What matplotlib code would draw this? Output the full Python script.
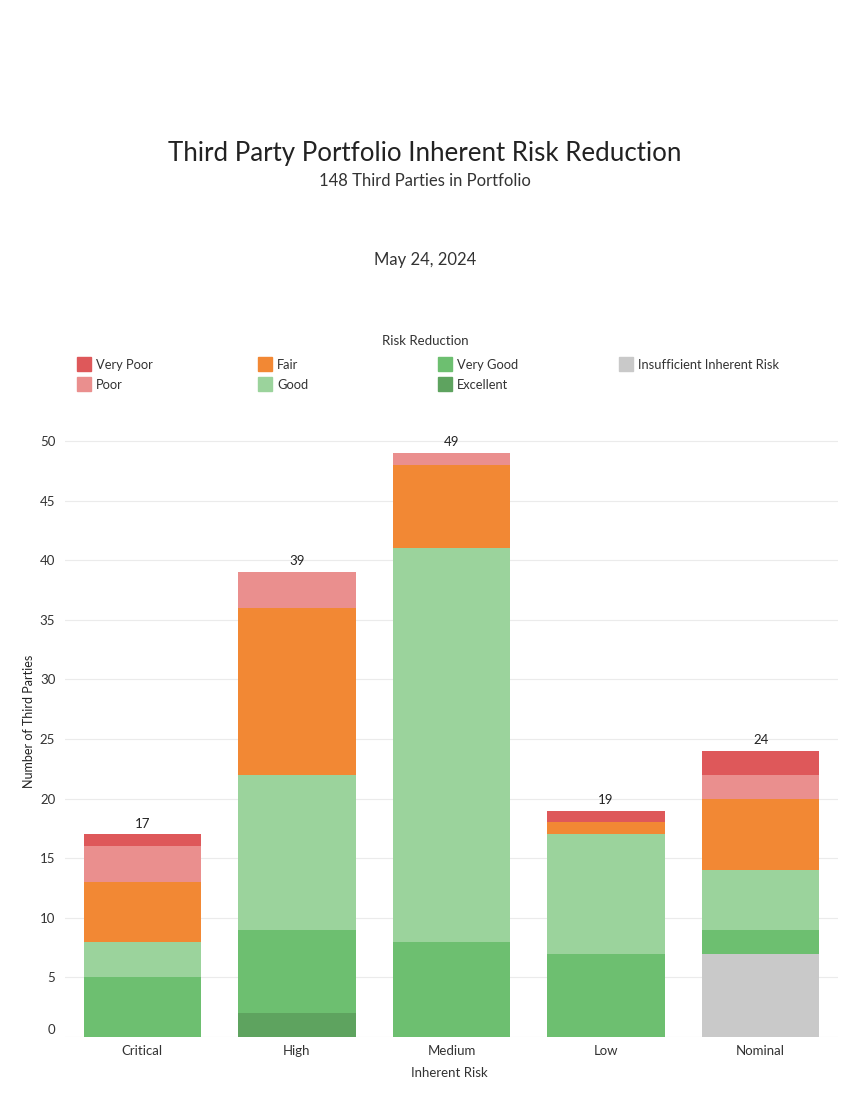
import matplotlib.pyplot as plt
from matplotlib.patches import Rectangle
import matplotlib.transforms as mtransforms
import numpy as np

plt.rcParams['font.family'] = ['Lato', 'DejaVu Sans']

categories = ['Critical', 'High', 'Medium', 'Low', 'Nominal']
# stacked from bottom to top
levels = ['Insufficient Inherent Risk', 'Excellent', 'Very Good', 'Good', 'Fair', 'Poor', 'Very Poor']
insufficient = [0, 0, 0, 0, 7]
excellent = [0, 2, 0, 0, 0]
very_good = [5, 7, 8, 7, 2]
good = [3, 13, 33, 10, 5]
fair = [5, 14, 7, 1, 6]
poor = [3, 3, 1, 0, 2]
very_poor = [1, 0, 0, 1, 2]
series = [insufficient, excellent, very_good, good, fair, poor, very_poor]

colors = {
    'Very Poor': '#DE585A',
    'Poor': '#EA8F8E',
    'Fair': '#F28834',
    'Good': '#9BD39C',
    'Very Good': '#6DBF70',
    'Excellent': '#5EA35F',
    'Insufficient Inherent Risk': '#C9C9C9',
}

fig = plt.figure(figsize=(8.5, 11), dpi=100)
ax = fig.add_axes([65 / 850, 1 - 1037 / 1100, (838 - 65) / 850, (1037 - 435) / 1100])

x = np.arange(len(categories))
bottom = np.zeros(len(categories))
for name, vals in zip(levels, series):
    vals = np.array(vals, dtype=float)
    ax.bar(x, vals, bottom=bottom, width=0.76, color=colors[name], linewidth=0, zorder=2)
    bottom += vals

for xi, tot in zip(x, bottom):
    ax.text(xi, tot + 0.4, str(int(tot)), ha='center', va='bottom', fontsize=9.5, color='#222222')

ax.set_xlim(-0.5, len(categories) - 0.5)
ax.set_ylim(0, 50.5)
ax.set_yticks(np.arange(0, 51, 5))
ax.set_xticks(x)
ax.set_xticklabels(categories, fontsize=9.5, color='#333333')
ax.tick_params(axis='both', length=0, colors='#333333', labelsize=9.5)
ax.tick_params(axis='y', pad=7)
ax.tick_params(axis='x', pad=6)
ax.grid(axis='y', color='#EBEBEB', linewidth=0.8, zorder=0)
for s in ax.spines.values():
    s.set_visible(False)

# shift the zero tick label upward like the original
offset = mtransforms.ScaledTranslation(0, 8 / 100, fig.dpi_scale_trans)
zero_lbl = ax.yaxis.get_major_ticks()[0].label1
zero_lbl.set_transform(zero_lbl.get_transform() + offset)

fig.text(29 / 850, 1 - 721 / 1100, 'Number of Third Parties', rotation=90, ha='center', va='center',
         fontsize=9, color='#222222')
fig.text(449 / 850, 1 - 1073 / 1100, 'Inherent Risk', ha='center', va='center', fontsize=9.5, color='#333333')

fig.text(425 / 850, 1 - 153 / 1100, 'Third Party Portfolio Inherent Risk Reduction', ha='center', va='center',
         fontsize=18.6, color='#222222')
fig.text(425 / 850, 1 - 181 / 1100, '148 Third Parties in Portfolio', ha='center', va='center',
         fontsize=12, color='#333333')
fig.text(425 / 850, 1 - 260 / 1100, 'May 24, 2024', ha='center', va='center', fontsize=12, color='#333333')

# legend
fig.text(425 / 850, 1 - 341 / 1100, 'Risk Reduction', ha='center', va='center', fontsize=9.5, color='#333333')
legend_layout = [
    ('Very Poor', 77, 364), ('Poor', 77, 384),
    ('Fair', 258, 364), ('Good', 258, 384),
    ('Very Good', 438, 364), ('Excellent', 438, 384),
    ('Insufficient Inherent Risk', 619, 364),
]
for name, lx, ly in legend_layout:
    fig.patches.append(Rectangle((lx / 850, 1 - (ly + 7) / 1100), 14 / 850, 14 / 1100,
                                 transform=fig.transFigure, color=colors[name]))
    fig.text((lx + 19) / 850, 1 - (ly + 1) / 1100, name, ha='left', va='center', fontsize=9.3, color='#333333')

fig.savefig('out.png', dpi=100)
